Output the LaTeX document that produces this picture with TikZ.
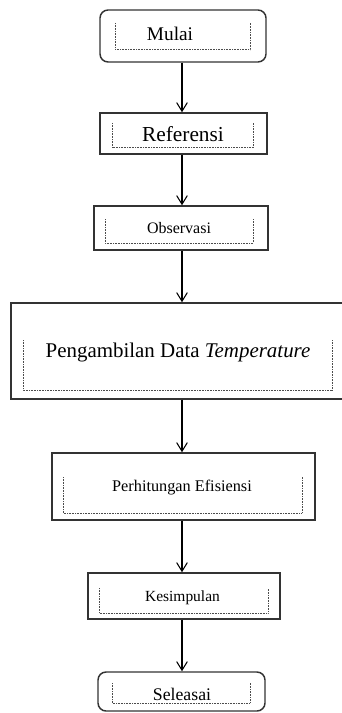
\documentclass[tikz,border=0pt]{standalone}
\usepackage{fontspec}
\setmainfont{Liberation Serif}
\usetikzlibrary{arrows.meta}
\tikzset{
  box/.style={draw=black!80, line width=1.1pt, inner sep=0pt, fill=white},
  rbox/.style={box, rounded corners=6pt},
  lbl/.style={inner sep=0pt, anchor=center},
  inbox/.style={dash pattern=on 0.6pt off 0.6pt, line width=0.75pt, draw=black!70},
  arr/.style={-{Straight Barb[length=6.5pt,width=8pt]}, line width=0.8pt, draw=black}
}
\newcommand{\fs}[1]{\fontsize{#1}{#1}\selectfont}
\begin{document}
\begin{tikzpicture}[x=0.75pt,y=-0.75pt]
\useasboundingbox (0,0) rectangle (342,713);
\coordinate (axis) at (182,0);
% outer boxes
\node[rbox, minimum width=124.5pt, minimum height=39pt] (mulai) at (183,36) {};
\node[box, minimum width=125.25pt, minimum height=30.75pt] (ref) at (183.5,133.5) {};
\node[box, minimum width=130.5pt, minimum height=33pt] (obs) at (181,228) {};
\node[box, minimum width=249.75pt, minimum height=72pt] (ambil) at (177.5,351) {};
\node[box, minimum width=197.25pt, minimum height=50.25pt] (hitung) at (183.5,486.5) {};
\node[box, minimum width=144pt, minimum height=34.5pt] (simpul) at (184,596) {};
\node[rbox, minimum width=125.25pt, minimum height=29.25pt] (selesai) at (181.5,691.5) {};
% inner dotted boxes (open at top)
\draw[inbox] (115,23) -- (115,50) -- (250,50) -- (250,23);
\draw[inbox] (112,123) -- (112,148) -- (253,148) -- (253,123);
\draw[inbox] (105,219) -- (105,243) -- (253,243) -- (253,219);
\draw[inbox] (23,340) -- (23,390) -- (332,390) -- (332,340);
\draw[inbox] (63,477) -- (63,513) -- (302,513) -- (302,477);
\draw[inbox] (99,588) -- (99,613) -- (268,613) -- (268,588);
\draw[inbox] (112,683) -- (112,703) -- (250,703) -- (250,683);
% labels
\node[lbl, font=\fs{14.5}] (tmulai) at (170,34) {Mulai};
\node[lbl, font=\fs{16}] (tref) at (183,134) {Referensi};
\node[lbl, font=\fs{12}] (tobs) at (179,228) {Observasi};
\node[lbl, font=\fs{15.7}] (tambil) at (178,352) {Pengambilan Data \textit{Temperature}};
\node[lbl, font=\fs{12.2}] (thitung) at (182,488) {Perhitungan Efisiensi};
\node[lbl, font=\fs{11.6}] (tsimpul) at (182.5,598) {Kesimpulan};
\node[lbl, font=\fs{13.3}] (tselesai) at (182,694) {Seleasai};
% arrows
\draw[arr] (mulai.south -| axis) -- (ref.north -| axis);
\draw[arr] (ref.south -| axis) -- (obs.north -| axis);
\draw[arr] (obs.south -| axis) -- (ambil.north -| axis);
\draw[arr] (ambil.south -| axis) -- (hitung.north -| axis);
\draw[arr] (hitung.south -| axis) -- (simpul.north -| axis);
\draw[arr] (simpul.south -| axis) -- (selesai.north -| axis);
\end{tikzpicture}
\end{document}
